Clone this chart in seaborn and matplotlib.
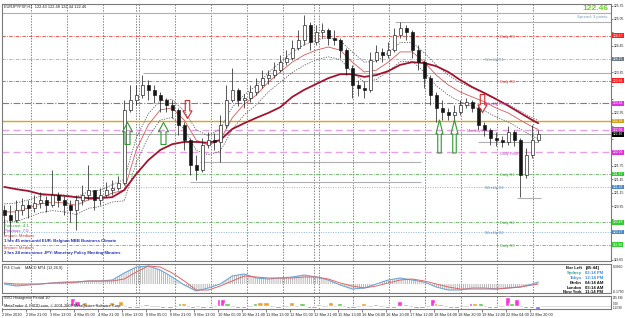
import numpy as np
import pandas as pd
import matplotlib
matplotlib.use('Agg')
import matplotlib.pyplot as plt
import matplotlib.transforms as mtransforms
from matplotlib.path import Path
import seaborn as sns

# ==========================
# Data
# ==========================

symbol_line = "EURJPYFXF,H1  122.43 122.48 122.44 122.46"
last_price = "122.46"
spread_text = "Spread: 3 points"

# 4-hour candles built from the H1 chart
candle_open = [120.76, 120.65, 120.54, 120.76, 120.87, 120.81, 120.92, 120.99, 120.87, 121.10,
               120.99, 120.87, 120.76, 120.99, 121.10, 121.21, 120.99, 121.10, 121.21, 121.26,
               121.37, 123.01, 123.23, 123.34, 123.57, 123.46, 123.34, 123.23, 123.12, 123.01,
               122.67, 122.33, 121.77, 121.66, 122.22, 122.33, 122.29, 122.67, 123.23, 123.46,
               123.23, 123.28, 123.41, 123.57, 123.72, 123.79, 123.90, 124.08, 124.17, 124.40,
               124.58, 124.91, 124.53, 124.76, 124.80, 124.62, 124.58, 124.35, 123.95, 123.57,
               123.50, 123.46, 124.13, 124.31, 124.24, 124.35, 124.69, 124.85, 124.76, 124.35,
               124.08, 123.72, 123.34, 123.05, 122.96, 122.89, 122.96, 123.12, 123.19, 123.05,
               122.67, 122.56, 122.38, 122.33, 122.29, 122.51, 122.33, 121.55, 122.00, 122.33]
candle_high = [120.87, 120.87, 120.99, 121.03, 120.99, 121.10, 121.17, 121.08, 121.66, 121.17,
               121.08, 120.99, 121.10, 121.32, 121.77, 121.21, 121.26, 121.39, 121.44, 121.53,
               123.23, 123.57, 123.57, 123.79, 123.68, 123.57, 123.41, 123.28, 123.23, 123.05,
               122.74, 122.38, 122.00, 122.38, 122.51, 122.49, 122.89, 123.57, 123.95, 123.50,
               123.37, 123.57, 123.72, 123.90, 123.90, 124.08, 124.24, 124.35, 124.58, 124.80,
               125.14, 124.98, 124.91, 124.96, 124.85, 124.80, 124.62, 124.40, 124.02, 123.68,
               123.63, 124.31, 124.47, 124.40, 124.53, 124.85, 124.98, 124.91, 124.80, 124.47,
               124.13, 123.79, 123.41, 123.23, 123.05, 123.12, 123.23, 123.28, 123.23, 123.10,
               122.74, 122.60, 122.51, 122.42, 122.65, 122.56, 122.38, 122.15, 122.67, 122.56]
candle_low = [120.20, 120.09, 120.49, 120.65, 120.58, 120.72, 120.81, 120.72, 120.83, 120.83,
              120.65, 120.49, 120.31, 120.87, 120.99, 120.76, 120.87, 121.05, 121.10, 121.21,
              121.32, 122.96, 123.12, 123.28, 123.23, 123.16, 122.96, 122.96, 122.83, 122.45,
              122.11, 121.55, 121.44, 121.62, 122.15, 122.11, 121.84, 122.60, 123.19, 123.10,
              123.05, 123.19, 123.34, 123.50, 123.59, 123.72, 123.86, 124.02, 124.13, 124.35,
              124.47, 124.35, 124.47, 124.62, 124.47, 124.47, 124.17, 123.79, 123.28, 123.32,
              123.28, 123.41, 124.08, 124.08, 124.17, 124.31, 124.62, 124.58, 124.17, 123.90,
              123.50, 123.12, 122.74, 122.78, 122.78, 122.78, 122.89, 123.05, 122.96, 122.56,
              122.42, 122.22, 122.20, 122.18, 122.22, 122.20, 121.05, 121.48, 121.93, 122.29]
candle_close = [120.65, 120.54, 120.76, 120.87, 120.81, 120.92, 120.99, 120.87, 121.10, 120.99,
                120.87, 120.76, 120.99, 121.10, 121.21, 120.99, 121.10, 121.21, 121.26, 121.37,
                123.01, 123.23, 123.34, 123.57, 123.46, 123.34, 123.23, 123.12, 123.01, 122.67,
                122.33, 121.77, 121.66, 122.22, 122.33, 122.29, 122.67, 123.23, 123.46, 123.23,
                123.28, 123.41, 123.57, 123.72, 123.79, 123.90, 124.08, 124.17, 124.40, 124.58,
                124.91, 124.53, 124.76, 124.80, 124.62, 124.58, 124.35, 123.95, 123.57, 123.50,
                123.46, 124.13, 124.31, 124.24, 124.35, 124.69, 124.85, 124.76, 124.35, 124.08,
                123.72, 123.34, 123.05, 122.96, 122.89, 122.96, 123.12, 123.19, 123.05, 122.67,
                122.56, 122.38, 122.33, 122.29, 122.51, 122.33, 121.55, 122.00, 122.33, 122.46]
bars_per_candle = 4

# indicator lines, sampled every 2nd candle plus the last one
ma_slow = [121.28, 121.23, 121.19, 121.12, 121.10, 121.08, 121.05, 121.03, 121.03, 121.05,
           121.21, 121.57, 121.88, 122.11, 122.24, 122.29, 122.29, 122.27, 122.33, 122.58,
           122.71, 122.83, 122.94, 123.07, 123.30, 123.46, 123.59, 123.72, 123.81, 123.81,
           123.75, 123.79, 123.88, 124.02, 124.08, 124.06, 123.99, 123.86, 123.68, 123.52,
           123.39, 123.25, 123.10, 122.94, 122.78, 122.71]
ma_fast = [120.72, 120.72, 120.81, 120.90, 120.94, 120.92, 120.87, 120.99, 121.03, 121.14,
           121.21, 122.11, 122.67, 123.01, 123.05, 122.78, 122.33, 122.22, 122.33, 122.83,
           123.14, 123.34, 123.63, 123.86, 124.08, 124.24, 124.35, 124.42, 124.35, 124.08,
           123.86, 123.90, 124.08, 124.31, 124.31, 124.08, 123.79, 123.57, 123.41, 123.30,
           123.19, 123.05, 122.94, 122.78, 122.63, 122.57]
band_upper = [120.90, 120.92, 120.99, 121.07, 121.12, 121.10, 121.06, 121.17, 121.21, 121.33,
              121.45, 122.38, 122.92, 123.22, 123.24, 122.98, 122.56, 122.43, 122.58, 123.07,
              123.35, 123.55, 123.84, 124.08, 124.31, 124.47, 124.58, 124.63, 124.56, 124.31,
              124.08, 124.10, 124.29, 124.52, 124.52, 124.29, 124.02, 123.79, 123.62, 123.50,
              123.38, 123.24, 123.13, 122.98, 122.83, 122.77]
band_lower = [120.52, 120.50, 120.60, 120.70, 120.75, 120.72, 120.66, 120.80, 120.84, 120.94,
              120.97, 121.82, 122.40, 122.78, 122.84, 122.57, 122.10, 122.00, 122.08, 122.57,
              122.90, 123.12, 123.41, 123.63, 123.85, 124.01, 124.13, 124.20, 124.14, 123.86,
              123.63, 123.69, 123.87, 124.09, 124.10, 123.86, 123.55, 123.34, 123.19, 123.09,
              122.99, 122.85, 122.74, 122.58, 122.42, 122.36]

macd_main = [0.00, -0.04, -0.02, 0.00, 0.02, 0.04, 0.04, 0.06, 0.06, 0.08,
             0.22, 0.34, 0.36, 0.28, 0.14, -0.02, -0.14, -0.08, 0.00, 0.16,
             0.20, 0.12, 0.10, 0.12, 0.14, 0.18, 0.14, 0.08, -0.02, -0.10,
             -0.08, 0.00, 0.08, 0.12, 0.08, 0.04, -0.06, -0.12, -0.12, -0.08,
             -0.08, -0.10, -0.08, -0.06, 0.00, 0.04]
macd_signal = [0.02, 0.00, 0.00, 0.00, 0.02, 0.02, 0.04, 0.06, 0.06, 0.06,
               0.10, 0.24, 0.36, 0.34, 0.22, 0.06, -0.12, -0.12, -0.04, 0.06,
               0.16, 0.14, 0.12, 0.12, 0.12, 0.14, 0.14, 0.10, 0.02, -0.04,
               -0.08, -0.04, 0.02, 0.08, 0.10, 0.06, 0.00, -0.06, -0.10, -0.10,
               -0.10, -0.10, -0.08, -0.06, -0.02, 0.00]

# SVO histogram: bar index, value, colour group
svo_bar = [1, 3, 47, 50, 55, 62, 73, 79, 85, 90, 96, 107, 112, 119, 121, 127, 134, 139,
           145, 147, 150, 157, 161, 169, 172, 176, 184, 193, 200, 205, 208, 211, 219, 225,
           231, 234, 241, 249, 257, 261, 265, 269, 276, 280, 287, 290, 292, 299, 303, 313,
           315, 319, 325, 329, 337, 340, 343, 349, 353, 357]
svo_value = [-35, 50, 240, 170, 135, 50, 135, 170, -100, -85, 50, -70, -70, 100, 100, -70,
             -100, -100, 205, 205, 70, -100, -100, 100, 135, 135, -100, 135, 70, -100, -70,
             50, 135, 70, -100, -70, 100, 50, -100, -70, 170, 50, -70, -70, 205, 70, 50,
             -100, -100, 100, 100, 70, -100, -100, 275, 70, 205, -100, -70, -113]
svo_kind = ['p', 'g', 'm', 'm', 'o', 'g', 'o', 'o', 'p', 'p', 'g', 'p', 'p', 'g', 'o', 'p',
            'p', 'p', 'm', 'm', 'g', 'p', 'p', 'g', 'o', 'o', 'p', 'o', 'g', 'p', 'p',
            'g', 'o', 'g', 'p', 'p', 'o', 'g', 'p', 'p', 'm', 'g', 'p', 'p', 'm', 'o', 'g',
            'p', 'p', 'm', 'o', 'g', 'p', 'p', 'm', 'g', 'm', 'p', 'p', 'p']

# pivot levels
level_names = ["Daily R3", "Weekly R1", "Daily R2", "Weekly Pivot", "", "Monthly Pivot",
               "Daily Pivot", "Daily S1", "Weekly S1", "Daily S2", "Weekly S2", "Daily S3"]
level_prices = [124.67, 124.15, 123.66, 123.16, 122.76, 122.56,
                122.06, 121.57, 121.28, 120.49, 120.27, 119.98]
level_kinds = ['daily_r', 'weekly_r', 'daily_r', 'weekly_p', 'orange', 'monthly_p',
               'daily_p', 'daily_s', 'weekly_s', 'daily_s', 'weekly_s', 'daily_s']
bid_price = 122.46

# grey high / low lines: price, first bar, last bar
hl_price = [125.18, 124.98, 123.84, 121.84, 121.39, 122.29, 121.03]
hl_start = [0, 262, 94, 132, 125, 317, 343]
hl_end = [406, 406, 406, 279, 279, 357, 359]

# signal arrows
signal_bar = [83, 107, 291, 301, 123, 320]
signal_price = [122.49, 122.49, 122.42, 122.42, 123.03, 123.16]
signal_dir = ['up', 'up', 'up', 'up', 'down', 'down']

# day / week separators (bar index)
day_breaks = [19, 43, 67, 89, 91, 115, 139, 163, 187, 208, 211, 234, 258, 282, 306, 330, 354]

date_labels = ["2 Mar 2010", "2 Mar 21:00", "3 Mar 13:00", "4 Mar 05:00", "4 Mar 21:00",
               "5 Mar 13:00", "8 Mar 05:00", "8 Mar 21:00", "9 Mar 13:00", "10 Mar 05:00",
               "10 Mar 21:00", "11 Mar 13:00", "12 Mar 05:00", "12 Mar 21:00", "15 Mar 13:00",
               "16 Mar 04:00", "16 Mar 20:00", "17 Mar 12:00", "18 Mar 04:00", "18 Mar 20:00",
               "19 Mar 12:00", "22 Mar 04:00", "22 Mar 20:00"]
price_ticks = [119.65, 119.95, 120.25, 120.55, 120.85, 121.15, 121.45, 121.75, 122.05, 122.35,
               122.65, 122.95, 123.25, 123.55, 123.85, 124.15, 124.45, 124.75, 125.05, 125.35]

news_lines = ["Forecast: 4.1", "Previous: 7.0", "Impact: Medium",
              "1 hrs 45 mins until EUR: Belgium NBB Business Climate",
              "Impact: Medium", "2 hrs 24 mins since JPY: Monetary Policy Meeting Minutes"]
clock_names = ["Bar Left", "Sydney", "Tokyo", "Berlin", "London", "New York"]
clock_times = ["[45:44]", "02:14 PM", "12:14 PM", "04:14 AM", "03:14 AM", "11:14 PM"]

# ==========================
# Style
# ==========================
sns.set_style('white')
plt.rcParams['font.family'] = ['Liberation Sans', 'DejaVu Sans']
plt.rcParams['hatch.linewidth'] = 0.5
FS = 2.8
FS_AX = 2.4

fig = plt.figure(figsize=(6.25, 3.18), dpi=100)
W, H = 625.0, 318.0


def box(x0, y0, x1, y1):
    return [x0 / W, 1 - y1 / H, (x1 - x0) / W, (y1 - y0) / H]


ax = fig.add_axes(box(2, 4, 611, 261))
ax_m = fig.add_axes(box(2, 264, 611, 293))
ax_h = fig.add_axes(box(2, 296, 611, 309))

for a in (ax, ax_m, ax_h):
    a.set_xlim(0, 406)
    a.set_facecolor('white')
    for s in a.spines.values():
        s.set_color('#7a7a7a')
        s.set_linewidth(0.8)
    for b in day_breaks:
        a.axvline(b, color='#505050', lw=0.5, ls=(0, (2, 2)), zorder=1)

ax.set_ylim(119.618, 125.385)
ax_m.set_ylim(-0.18, 0.40)
ax_h.set_ylim(-119, 323)

# ==========================
# Main price panel
# ==========================
level_style = {
    'daily_r': dict(color='#e8433a', ls=(0, (4, 1.5, 1, 1.5)), lw=0.6),
    'weekly_r': dict(color='#a8a8a8', ls=(0, (4, 1.5, 1, 1.5)), lw=0.6),
    'weekly_p': dict(color='#b45ab4', ls=(0, (6, 1.5, 1, 1.5)), lw=0.8),
    'orange': dict(color='#d9a521', ls='-', lw=1.0),
    'monthly_p': dict(color='#e6a0e6', ls=(0, (5, 3)), lw=1.0),
    'daily_p': dict(color='#e6a0e6', ls=(0, (5, 3)), lw=1.0),
    'daily_s': dict(color='#5cb85c', ls=(0, (4, 1.5, 1, 1.5)), lw=0.6),
    'weekly_s': dict(color='#8fb3d9', ls=(0, (1, 1.5)), lw=0.7),
}
label_color = {'daily_r': '#e04040', 'weekly_r': '#8494a4', 'weekly_p': '#c040c0',
               'orange': '#d9a521', 'monthly_p': '#d050d0', 'daily_p': '#d050d0',
               'daily_s': '#4aa84a', 'weekly_s': '#5a8cc0'}
box_color = {'daily_r': '#ff1f1f', 'weekly_r': '#6c7a89', 'weekly_p': '#e033e0',
             'orange': '#d4a020', 'monthly_p': '#e033e0', 'daily_p': '#e033e0',
             'daily_s': '#33cc33', 'weekly_s': '#4f88c6'}
label_bar = {'daily': 332, 'weekly': 322, 'monthly': 310}

trans_r = mtransforms.blended_transform_factory(ax.transAxes, ax.transData)


def price_box(price, fc):
    ax.text(1.003, price, f"{price:.2f}", transform=trans_r, fontsize=FS_AX, color='white',
            va='center', ha='left', clip_on=False, zorder=9,
            bbox=dict(boxstyle='square,pad=0.12', fc=fc, ec='none'))


for name, price, kind in zip(level_names, level_prices, level_kinds):
    ax.axhline(price, zorder=2, **level_style[kind])
    if name:
        ax.text(label_bar[name.split()[0].lower()], price - 0.03, name, fontsize=FS,
                color=label_color[kind], va='center', ha='left', zorder=7)
    price_box(price, box_color[kind])

for p, b0, b1 in zip(hl_price, hl_start, hl_end):
    ax.hlines(p, b0, b1, color='#b0b0b0', lw=0.8, zorder=2)

ax.axhline(bid_price, color='#9a9a9a', lw=0.6, zorder=2)
price_box(bid_price, 'black')

# candles
n = len(candle_close)
cx = np.arange(n) * bars_per_candle + 1.5
o = np.array(candle_open)
c = np.array(candle_close)
hi = np.array(candle_high)
lo = np.array(candle_low)
up = c >= o
ax.vlines(cx, lo, hi, color='#151515', lw=0.5, zorder=4)
ax.bar(cx[up], (c - o)[up], bottom=o[up], width=2.0, color='white', edgecolor='#151515',
       linewidth=0.45, zorder=5)
ax.bar(cx[~up], (o - c)[~up], bottom=c[~up], width=2.0, color='#151515', edgecolor='#151515',
       linewidth=0.45, zorder=5)

# moving averages
ma_x = np.append(np.arange(0, n, 2), n - 1) * bars_per_candle + 1.5
df_ma = pd.DataFrame({'bar': ma_x, 'slow': ma_slow, 'fast': ma_fast,
                      'upper': band_upper, 'lower': band_lower,
                      'macd': macd_main, 'signal': macd_signal})
sns.lineplot(data=df_ma, x='bar', y='upper', ax=ax, color='#606060', lw=0.6,
             linestyle=(0, (1.5, 1.5)), zorder=3)
sns.lineplot(data=df_ma, x='bar', y='lower', ax=ax, color='#606060', lw=0.6,
             linestyle=(0, (1.5, 1.5)), zorder=3)
sns.lineplot(data=df_ma, x='bar', y='fast', ax=ax, color='#d95858', lw=0.6, zorder=3)
sns.lineplot(data=df_ma, x='bar', y='slow', ax=ax, color='#a3122e', lw=1.3, zorder=3)


# signal arrows
def arrow_path(w, h, down=False):
    hl = 0.42 * h
    verts = [(-w / 4, -h / 2), (w / 4, -h / 2), (w / 4, h / 2 - hl), (w / 2, h / 2 - hl),
             (0, h / 2), (-w / 2, h / 2 - hl), (-w / 4, h / 2 - hl), (-w / 4, -h / 2)]
    if down:
        verts = [(x, -y) for x, y in verts]
    codes = [Path.MOVETO] + [Path.LINETO] * 6 + [Path.CLOSEPOLY]
    return Path(verts, codes)


arrow_size = [(10, 22), (10, 22), (7, 33), (7, 33), (9, 18), (9, 18)]
for b, p, d, (w, h) in zip(signal_bar, signal_price, signal_dir, arrow_size):
    col = '#2f9a2f' if d == 'up' else '#d42a2a'
    ax.plot(b, p, marker=arrow_path(w, h, d == 'down'), markersize=h * 0.72,
            mfc='none', mec=col, mew=0.8, ls='none', zorder=8)

# axis ticks (labels hidden behind the level boxes are left out)
boxed = level_prices + [bid_price]
tick_text = ["" if min(abs(t - q) for q in boxed) < 0.11 else f"{t:.2f}" for t in price_ticks]
ax.set_xticks([])
ax.set_yticks(price_ticks)
ax.set_yticklabels(tick_text)
ax.tick_params(axis='y', labelsize=FS_AX, length=1.5, width=0.4, pad=0.6, labelright=True,
               labelleft=False, right=True, left=False, colors='#222222')
ax.set_xlabel('')
ax.set_ylabel('')

# header texts
ax.text(0.003, 0.997, symbol_line, transform=ax.transAxes, fontsize=FS, va='top', ha='left',
        color='#222222')
ax.text(0.995, 0.982, last_price, transform=ax.transAxes, fontsize=6, va='center', ha='right',
        color='#72d11e', fontweight='bold', zorder=9)
ax.text(0.995, 0.950, spread_text, transform=ax.transAxes, fontsize=FS + 0.3, va='center',
        ha='right', color='#7c9cbc', zorder=9)

# news block
news_y = [0.136, 0.117, 0.097, 0.078, 0.051, 0.031]
news_col = ['#2e9e2e', '#9a35c8', '#c03a3a', '#1f2fb8', '#c03a3a', '#1f2fb8']
news_wt = ['normal', 'normal', 'normal', 'bold', 'normal', 'bold']
for t, yy, cc, ww in zip(news_lines, news_y, news_col, news_wt):
    ax.text(0.004, yy, t, transform=ax.transAxes, fontsize=FS + 0.3, color=cc, fontweight=ww,
            va='center', ha='left', zorder=9)

# ==========================
# MACD panel
# ==========================
ax_m.fill_between(df_ma['bar'], 0, df_ma['macd'], facecolor='none', edgecolor='#9c9c9c',
                  hatch='||||||||', linewidth=0, zorder=2)
sns.lineplot(data=df_ma, x='bar', y='macd', ax=ax_m, color='#6fa8dc', lw=0.8, zorder=3)
sns.lineplot(data=df_ma, x='bar', y='signal', ax=ax_m, color='#e06666', lw=0.7, zorder=3)
ax_m.set_xticks([])
ax_m.set_yticks([])
ax_m.set_xlabel('')
ax_m.set_ylabel('')
ax_m.text(0.003, 0.86, "Pi4 Clock    MACD MT4 (12,26,9)", transform=ax_m.transAxes,
          fontsize=FS, va='center', ha='left', color='#222222')
ax_m.text(1.003, 0.89, "0.3990", transform=ax_m.transAxes, fontsize=FS_AX, va='center',
          ha='left', color='#222222', clip_on=False)
ax_m.text(1.003, 0.05, "-0.1790", transform=ax_m.transAxes, fontsize=FS_AX, va='center',
          ha='left', color='#222222', clip_on=False)

clock_y = [0.86, 0.69, 0.52, 0.35, 0.18, 0.03]
name_col = ['#111111', '#2aa198', '#3d8fe0', '#111111', '#111111', '#111111']
time_col = ['#111111', '#3d8fe0', '#3d8fe0', '#111111', '#111111', '#111111']
for nm, tm, yy, c1, c2 in zip(clock_names, clock_times, clock_y, name_col, time_col):
    ax_m.text(0.952, yy, nm, transform=ax_m.transAxes, fontsize=FS + 0.3, color=c1,
              fontweight='bold', va='center', ha='right', zorder=9)
    ax_m.text(0.958, yy, tm, transform=ax_m.transAxes, fontsize=FS + 0.3, color=c2,
              fontweight='bold', va='center', ha='left', zorder=9)

# ==========================
# SVO histogram panel
# ==========================
svo_palette = {'m': '#ff33dd', 'o': '#f0a030', 'g': '#55cc44', 'p': '#7060e0'}
ax_h.bar(svo_bar, svo_value, width=3.4, color=[svo_palette[k] for k in svo_kind], zorder=3)
ax_h.axhline(0, color='#c0c0c0', lw=0.4, zorder=2)
ax_h.set_yticks([])
ax_h.text(0.003, 0.84, "SVO Histogram, Period 10", transform=ax_h.transAxes, fontsize=FS,
          va='center', ha='left', color='#222222', zorder=9)
ax_h.text(0.003, 0.2, "MetaTrader 4, FXDD.com, \u00a9 2001-2009 MetaQuotes Software Corp.",
          transform=ax_h.transAxes, fontsize=FS, va='center', ha='left', color='#222222',
          zorder=9)
ax_h.text(1.003, 0.84, "295.696", transform=ax_h.transAxes, fontsize=2.2, va='center',
          ha='left', color='#222222', clip_on=False)
ax_h.text(1.003, 0.40, "0.00", transform=ax_h.transAxes, fontsize=2.2, va='center',
          ha='left', color='#222222', clip_on=False)
ax_h.text(1.003, 0.06, "-113.90", transform=ax_h.transAxes, fontsize=2.2, va='center',
          ha='left', color='#222222', clip_on=False)

date_ticks = np.arange(len(date_labels)) * 16
ax_h.set_xticks(date_ticks)
ax_h.set_xticklabels(date_labels, fontsize=FS, ha='left', color='#222222')
ax_h.tick_params(axis='x', length=2, width=0.4, pad=1, bottom=True)

fig.savefig('out.png', dpi=100, facecolor='white')
